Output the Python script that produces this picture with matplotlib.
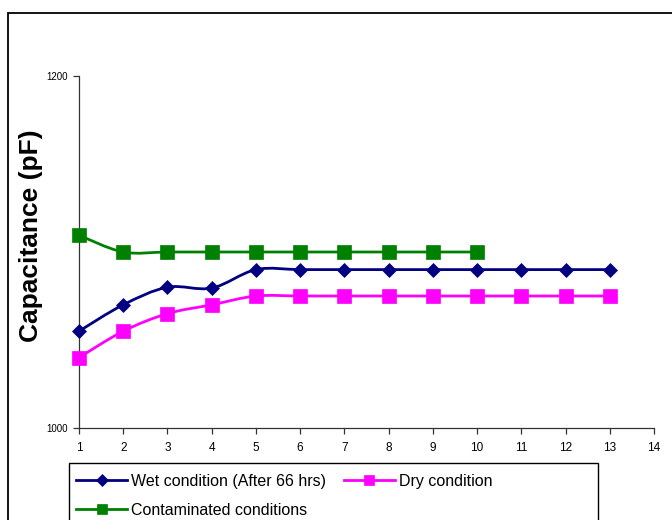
import numpy as np
import matplotlib
matplotlib.use("Agg")
import matplotlib.pyplot as plt
from matplotlib.path import Path
from matplotlib.patches import PathPatch, Rectangle
from matplotlib.lines import Line2D

plt.rcParams['font.family'] = ['Liberation Sans', 'DejaVu Sans']

x_wet = [1, 2, 3, 4, 5, 6, 7, 8, 9, 10, 11, 12, 13]
wet = [1055, 1070, 1080, 1079.5, 1090, 1090, 1090, 1090, 1090, 1090, 1090, 1090, 1090]
x_dry = [1, 2, 3, 4, 5, 6, 7, 8, 9, 10, 11, 12, 13]
dry = [1040, 1055, 1065, 1070, 1075, 1075, 1075, 1075, 1075, 1075, 1075, 1075, 1075]
x_con = [1, 2, 3, 4, 5, 6, 7, 8, 9, 10]
con = [1109.5, 1100, 1100, 1100, 1100, 1100, 1100, 1100, 1100, 1100]

labels = ["Wet condition (After 66 hrs)", "Dry condition", "Contaminated conditions"]
colors = ["#000080", "#FF00FF", "#008000"]
markers = ["D", "s", "s"]
msizes = [7.2, 10, 10]

xticks = list(range(1, 15))
yticks = [1000, 1200]


def smooth_path(xs, ys):
    p = np.column_stack([xs, ys]).astype(float)
    n = len(p)
    verts = [p[0]]
    codes = [Path.MOVETO]
    for i in range(n - 1):
        p0 = p[i - 1] if i > 0 else p[i]
        p1 = p[i]
        p2 = p[i + 1]
        p3 = p[i + 2] if i + 2 < n else p[i + 1]
        c1 = p1 + (p2 - p0) / 6.0
        c2 = p2 - (p3 - p1) / 6.0
        verts += [c1, c2, p2]
        codes += [Path.CURVE4] * 3
    return Path(verts, codes)


fig = plt.figure(figsize=(6.72, 5.2), dpi=100)
fig.patch.set_facecolor('white')

# outer chart border
fig.patches.append(Rectangle((8 / 672, -0.1), 1.2, 1 - 13 / 520 + 0.1,
                             transform=fig.transFigure, fill=False,
                             edgecolor='black', linewidth=1.3))

ax = fig.add_axes([79 / 672, 1 - 428 / 520, (654 - 79) / 672, (428 - 76) / 520])
ax.set_xlim(1, 14)
ax.set_ylim(1000, 1200)

series = [(x_wet, wet), (x_dry, dry), (x_con, con)]
handles = []
for (xs, ys), lab, c, m, ms in zip(series, labels, colors, markers, msizes):
    ax.add_patch(PathPatch(smooth_path(xs, ys), fill=False, edgecolor=c,
                           linewidth=2.0, zorder=2, clip_on=False))
    ax.plot(xs, ys, linestyle='none', marker=m, markersize=ms, color=c,
            markeredgecolor=c, markeredgewidth=0.5, zorder=3, clip_on=False)
    handles.append(Line2D([], [], color=c, linewidth=2.0, marker=m,
                          markersize=ms * 0.78, markeredgecolor=c,
                          markeredgewidth=0.5))

for side in ['top', 'right']:
    ax.spines[side].set_visible(False)
for side in ['left', 'bottom']:
    ax.spines[side].set_color('#333333')
    ax.spines[side].set_linewidth(0.9)

ax.set_xticks(xticks)
ax.set_yticks(yticks)
ax.tick_params(axis='x', direction='out', length=4, width=0.9, color='#333333',
               labelsize=8.5, pad=6)
ax.tick_params(axis='y', direction='out', length=4, width=0.9, color='#333333',
               labelsize=7, pad=4)

fig.text(31 / 672, 1 - 236 / 520, "Capacitance (pF)", rotation=90,
         fontsize=19, fontweight='bold', ha='center', va='center')

# legend box
fig.patches.append(Rectangle((69 / 672, -0.1), (598 - 69) / 672, 0.1 + 1 - 463 / 520,
                             transform=fig.transFigure, fill=True, facecolor='white',
                             edgecolor='black', linewidth=1.0))

order = [0, 2, 1]
leg = fig.legend([handles[i] for i in order], [labels[i] for i in order],
                 ncol=2, loc='upper left', bbox_to_anchor=(76 / 672, 1 - 474 / 520),
                 frameon=False, fontsize=11.5, handlelength=3.2, handletextpad=0.25,
                 columnspacing=1.1, labelspacing=0.85, borderpad=0, borderaxespad=0)

fig.savefig("out.png", dpi=100)
